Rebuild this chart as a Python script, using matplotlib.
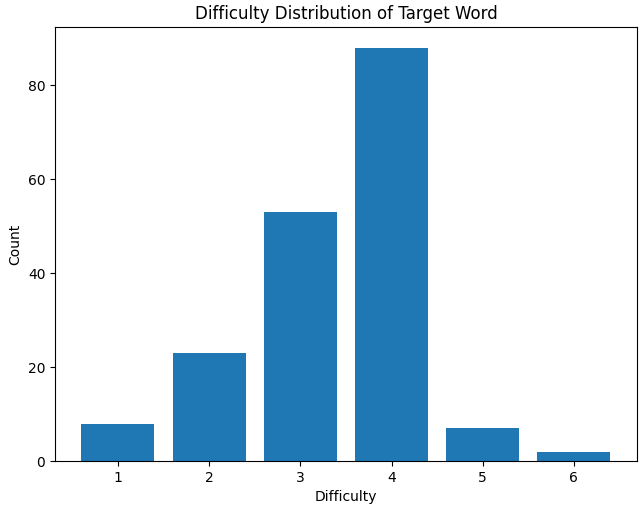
import matplotlib
matplotlib.use("Agg")
import matplotlib.pyplot as plt

difficulty = [1, 2, 3, 4, 5, 6]
counts = [8, 23, 53, 88, 7, 2]

fig, ax = plt.subplots(figsize=(6.4, 5.13), dpi=100)
fig.subplots_adjust(left=0.086, right=0.995, top=0.947, bottom=0.101)
ax.bar(difficulty, counts, color="#1f77b4")
ax.set_xticks(difficulty)
ax.set_xlabel("Difficulty")
ax.set_ylabel("Count")
ax.set_title("Difficulty Distribution of Target Word")
fig.savefig("out.png", dpi=100)
